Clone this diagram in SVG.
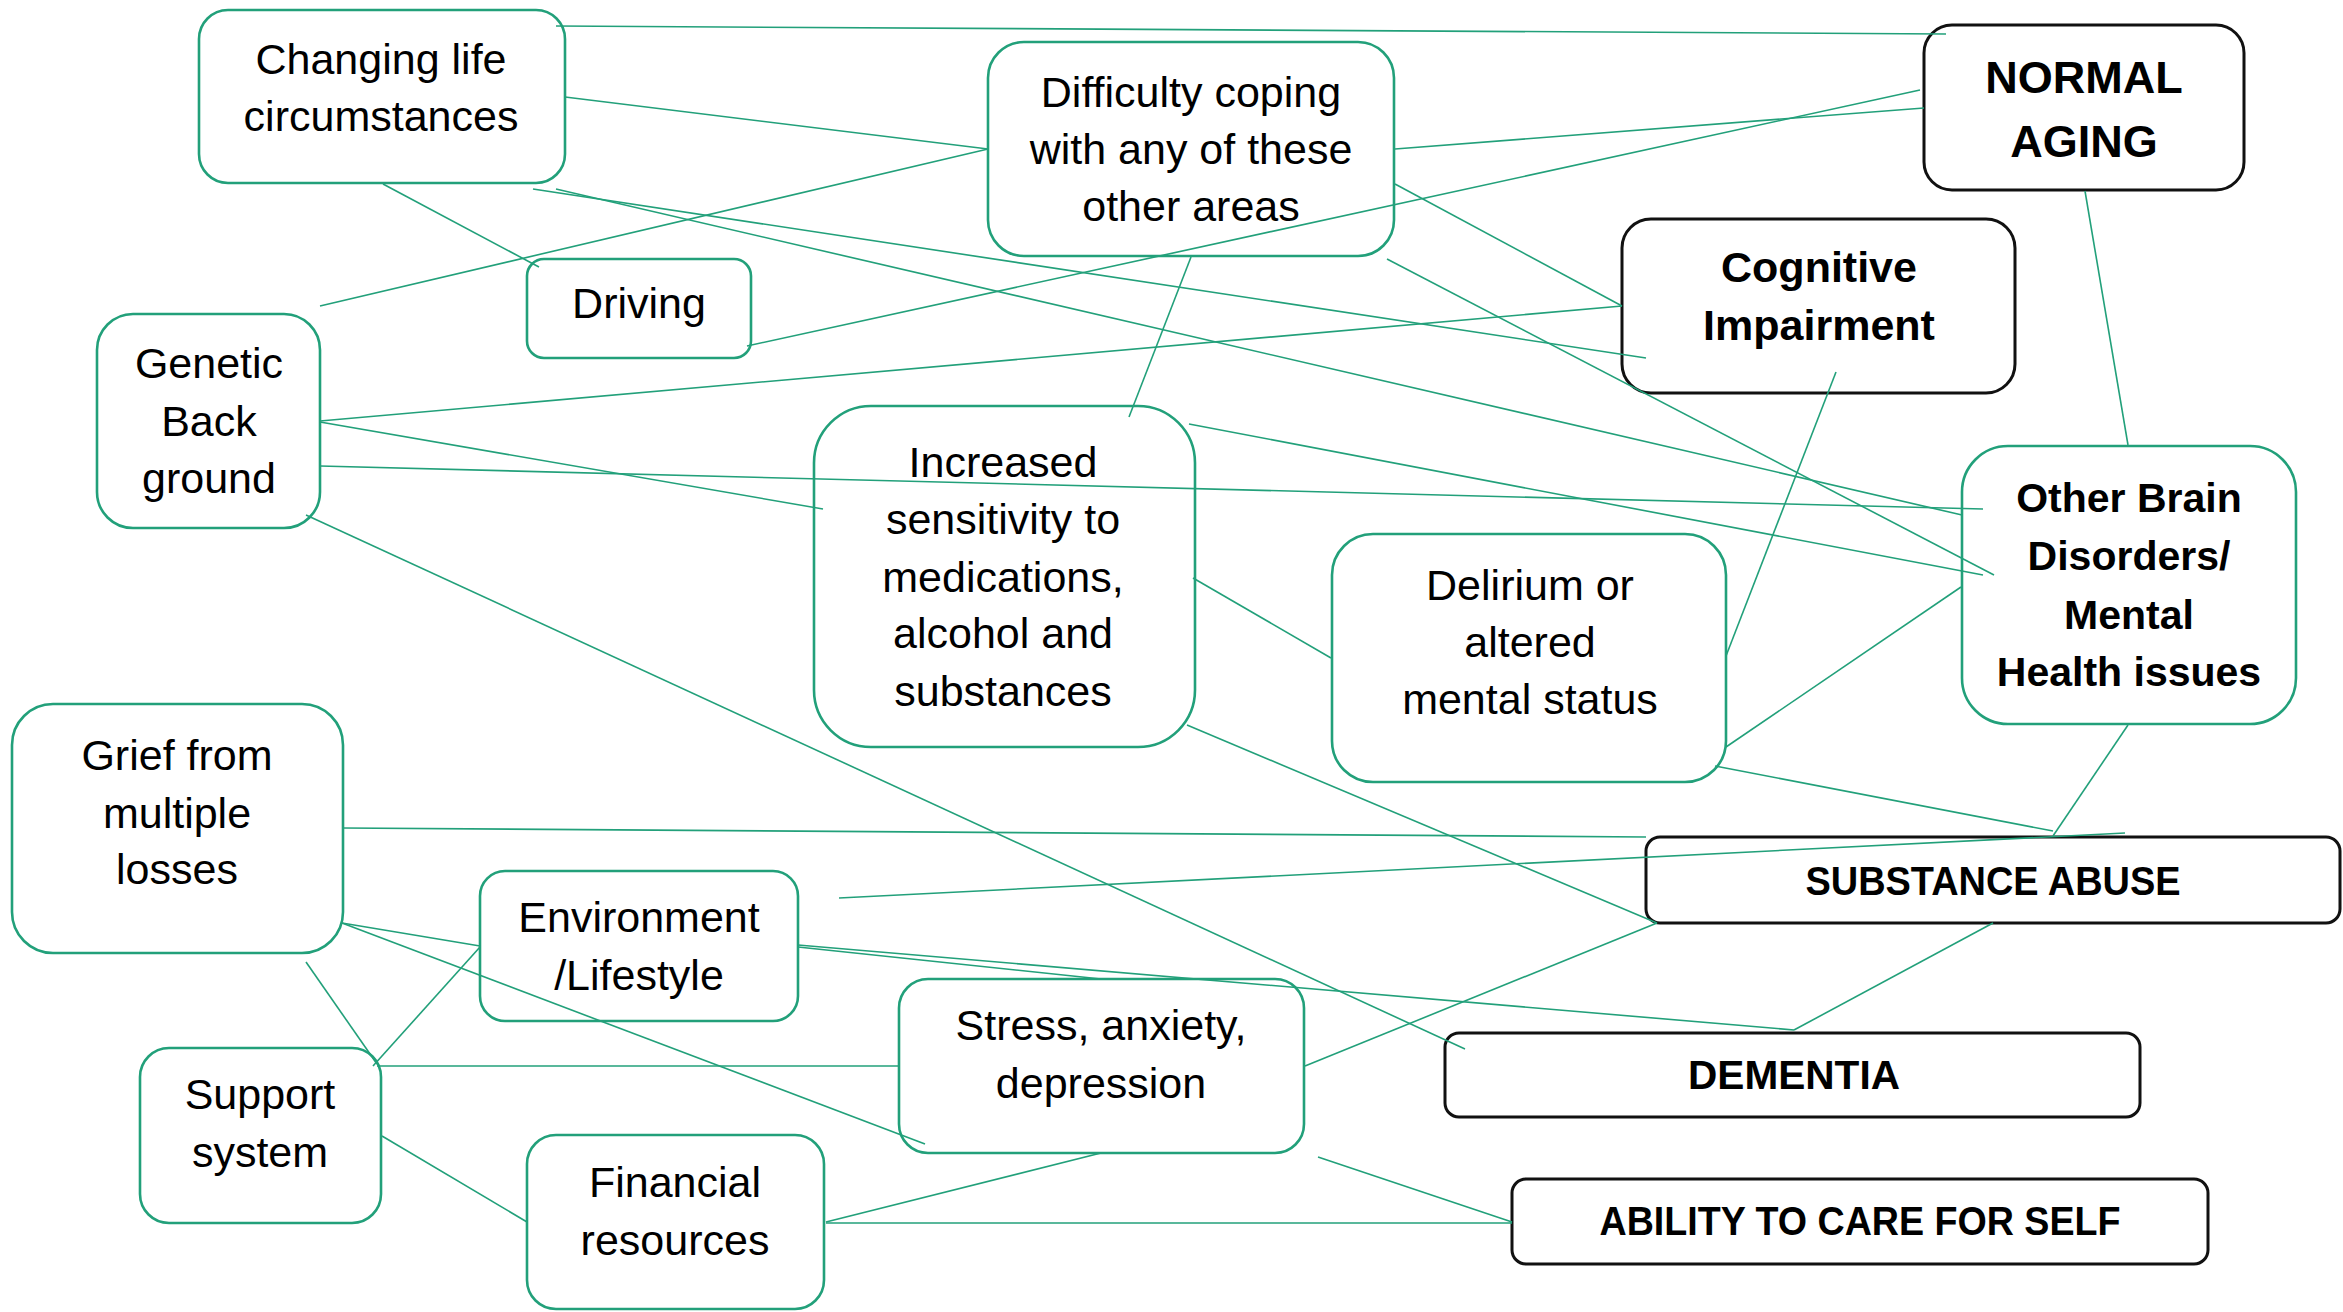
<svg xmlns="http://www.w3.org/2000/svg" width="2343" height="1312" viewBox="0 0 2343 1312">
<style>
.g{fill:#fff;stroke:#22a07a;stroke-width:2.6}
.k{fill:#fff;stroke:#111;stroke-width:3}
.t{font-family:"Liberation Sans",Arial,sans-serif;font-size:43px;fill:#000;text-anchor:middle}
.b{font-family:"Liberation Sans",Arial,sans-serif;font-weight:bold;fill:#000;text-anchor:middle}
#connectors line{stroke:#22a07a;stroke-width:1.6;fill:none}
</style>
<rect width="2343" height="1312" fill="#fff"/>
<g id="n-changing"><rect class="g" x="199" y="10" width="366" height="173" rx="29"/><text class="t" x="381" y="74">Changing life</text><text class="t" x="381" y="131">circumstances</text></g>
<g id="n-difficulty"><rect class="g" x="988" y="42" width="406" height="214" rx="36"/><text class="t" x="1191" y="107">Difficulty coping</text><text class="t" x="1191" y="164">with any of these</text><text class="t" x="1191" y="221">other areas</text></g>
<g id="n-normal"><rect class="k" x="1924" y="25" width="320" height="165" rx="28"/><text class="b" x="2084" y="93" font-size="45">NORMAL</text><text class="b" x="2084" y="157" font-size="45">AGING</text></g>
<g id="n-cognitive"><rect class="k" x="1622" y="219" width="393" height="174" rx="29"/><text class="b" x="1819" y="282" font-size="43">Cognitive</text><text class="b" x="1819" y="340" font-size="43">Impairment</text></g>
<g id="n-otherbrain"><rect class="g" x="1962" y="446" width="334" height="278" rx="46"/><text class="b" x="2129" y="512" font-size="41">Other Brain</text><text class="b" x="2129" y="570" font-size="41">Disorders/</text><text class="b" x="2129" y="629" font-size="41">Mental</text><text class="b" x="2129" y="686" font-size="41">Health issues</text></g>
<g id="n-driving"><rect class="g" x="527" y="259" width="224" height="99" rx="17"/><text class="t" x="639" y="318">Driving</text></g>
<g id="n-genetic"><rect class="g" x="97" y="314" width="223" height="214" rx="36"/><text class="t" x="209" y="378">Genetic</text><text class="t" x="209" y="436">Back</text><text class="t" x="209" y="493">ground</text></g>
<g id="n-increased"><rect class="g" x="814" y="406" width="381" height="341" rx="57"/><text class="t" x="1003" y="477">Increased</text><text class="t" x="1003" y="534">sensitivity to</text><text class="t" x="1003" y="592">medications,</text><text class="t" x="1003" y="648">alcohol and</text><text class="t" x="1003" y="706">substances</text></g>
<g id="n-delirium"><rect class="g" x="1332" y="534" width="394" height="248" rx="41"/><text class="t" x="1530" y="600">Delirium or</text><text class="t" x="1530" y="657">altered</text><text class="t" x="1530" y="714">mental status</text></g>
<g id="n-grief"><rect class="g" x="12" y="704" width="331" height="249" rx="41"/><text class="t" x="177" y="770">Grief from</text><text class="t" x="177" y="828">multiple</text><text class="t" x="177" y="884">losses</text></g>
<g id="n-environment"><rect class="g" x="480" y="871" width="318" height="150" rx="25"/><text class="t" x="639" y="932">Environment</text><text class="t" x="639" y="990">/Lifestyle</text></g>
<g id="n-support"><rect class="g" x="140" y="1048" width="241" height="175" rx="29"/><text class="t" x="260" y="1109">Support</text><text class="t" x="260" y="1167">system</text></g>
<g id="n-financial"><rect class="g" x="527" y="1135" width="297" height="174" rx="29"/><text class="t" x="675" y="1197">Financial</text><text class="t" x="675" y="1255">resources</text></g>
<g id="n-stress"><rect class="g" x="899" y="979" width="405" height="174" rx="29"/><text class="t" x="1101" y="1040">Stress, anxiety,</text><text class="t" x="1101" y="1098">depression</text></g>
<g id="n-substance"><rect class="k" x="1646" y="837" width="694" height="86" rx="14"/><text class="b" x="1993" y="895" font-size="40" textLength="375" lengthAdjust="spacingAndGlyphs">SUBSTANCE ABUSE</text></g>
<g id="n-dementia"><rect class="k" x="1445" y="1033" width="695" height="84" rx="14"/><text class="b" x="1794" y="1089" font-size="40" textLength="212" lengthAdjust="spacingAndGlyphs">DEMENTIA</text></g>
<g id="n-ability"><rect class="k" x="1512" y="1179" width="696" height="85" rx="14"/><text class="b" x="1860" y="1235" font-size="40" textLength="521" lengthAdjust="spacingAndGlyphs">ABILITY TO CARE FOR SELF</text></g>
<g id="connectors">
<line x1="556" y1="26" x2="1946" y2="34"/>
<line x1="565" y1="97" x2="988" y2="149"/>
<line x1="988" y1="149" x2="320" y2="306"/>
<line x1="533" y1="189" x2="1646" y2="358"/>
<line x1="556" y1="189" x2="1962" y2="515"/>
<line x1="383" y1="184" x2="539" y2="267"/>
<line x1="1395" y1="184" x2="1622" y2="306"/>
<line x1="1387" y1="259" x2="1994" y2="575"/>
<line x1="1395" y1="149" x2="1924" y2="108"/>
<line x1="747" y1="346" x2="1920" y2="90"/>
<line x1="320" y1="421" x2="1622" y2="306"/>
<line x1="1191" y1="257" x2="1129" y2="417"/>
<line x1="1189" y1="424" x2="1983" y2="575"/>
<line x1="320" y1="466" x2="1983" y2="509"/>
<line x1="320" y1="422" x2="823" y2="509"/>
<line x1="306" y1="515" x2="1465" y2="1049"/>
<line x1="1193" y1="578" x2="1331" y2="658"/>
<line x1="1187" y1="725" x2="1657" y2="923"/>
<line x1="1726" y1="656" x2="1836" y2="372"/>
<line x1="1726" y1="747" x2="1961" y2="587"/>
<line x1="1715" y1="766" x2="2053" y2="831"/>
<line x1="2128" y1="725" x2="2053" y2="836"/>
<line x1="2085" y1="191" x2="2128" y2="445"/>
<line x1="343" y1="828" x2="1646" y2="837"/>
<line x1="839" y1="898" x2="2125" y2="833"/>
<line x1="798" y1="945" x2="1794" y2="1030"/>
<line x1="798" y1="947" x2="1101" y2="979"/>
<line x1="1993" y1="923" x2="1794" y2="1030"/>
<line x1="1305" y1="1066" x2="1657" y2="923"/>
<line x1="377" y1="1066" x2="899" y2="1066"/>
<line x1="342" y1="923" x2="480" y2="946"/>
<line x1="342" y1="923" x2="925" y2="1144"/>
<line x1="306" y1="962" x2="377" y2="1064"/>
<line x1="480" y1="947" x2="373" y2="1066"/>
<line x1="382" y1="1136" x2="527" y2="1222"/>
<line x1="826" y1="1222" x2="1101" y2="1153"/>
<line x1="826" y1="1223" x2="1512" y2="1223"/>
<line x1="1318" y1="1157" x2="1512" y2="1222"/>
</g>
</svg>
